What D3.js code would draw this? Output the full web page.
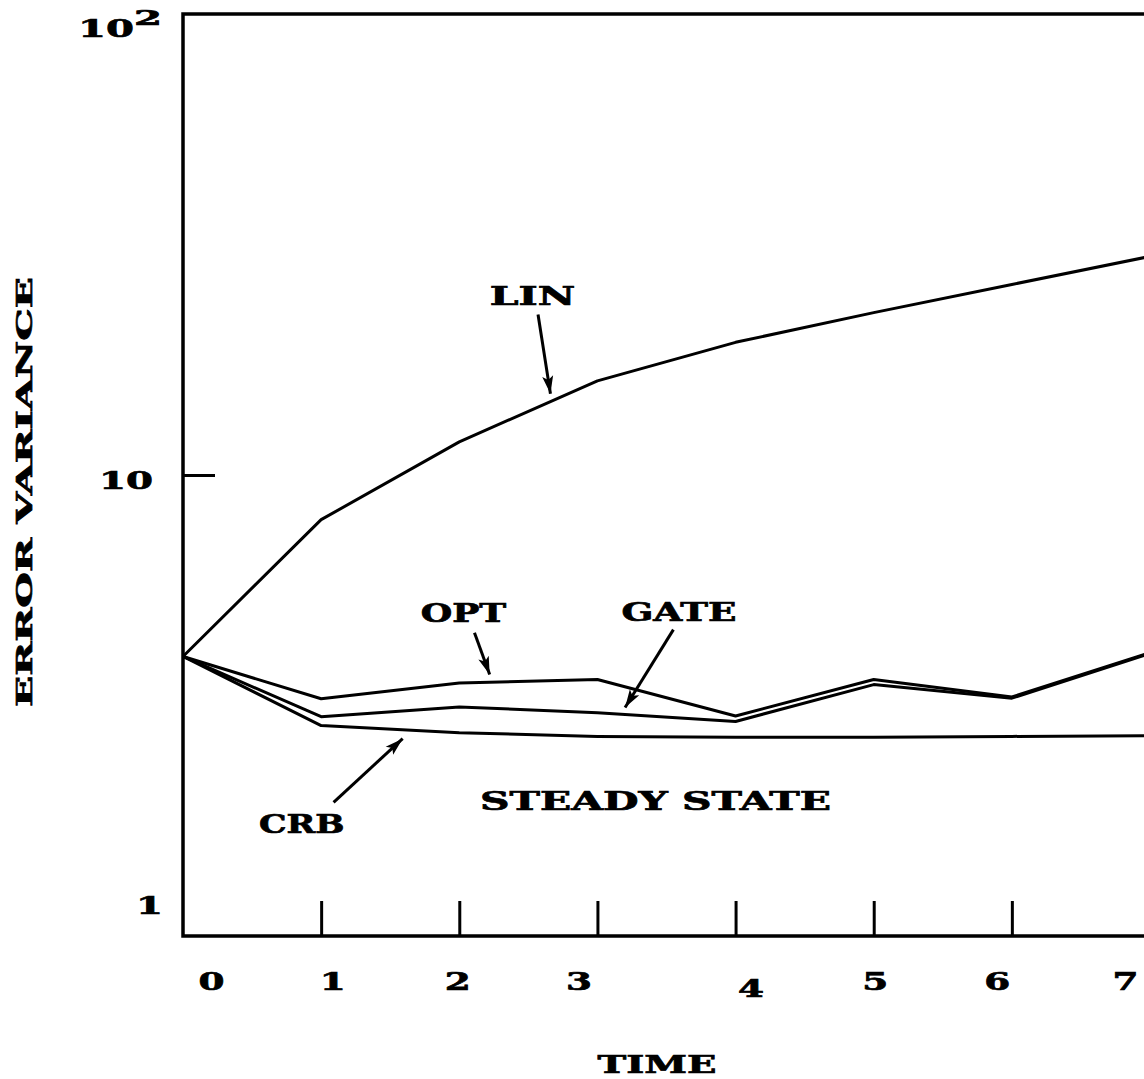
<!DOCTYPE html>
<html>
<head>
<meta charset="utf-8">
<script src="https://cdn.jsdelivr.net/npm/d3@7"></script>
<style>
  body { margin: 0; background: #fff; }
  svg text { font-family: "DejaVu Serif", serif; font-weight: bold; fill: #000; stroke: #000; stroke-width: 0.7px; }
</style>
</head>
<body>
<div id="chart"></div>
<script>
// data
const times = [0, 1, 2, 3, 4, 5, 6, 7];
const lin  = [4.04, 8.0, 11.8, 16.0, 19.4, 22.5, 25.9, 29.8];
const opt  = [4.04, 3.27, 3.54, 3.60, 3.00, 3.60, 3.30, 4.12];
const gate = [4.04, 2.99, 3.14, 3.05, 2.92, 3.51, 3.28, 4.10];
const crb  = [4.04, 2.86, 2.76, 2.71, 2.70, 2.70, 2.71, 2.72];
const xTickLabels = ['0', '1', '2', '3', '4', '5', '6', '7'];
const yTickValues = [1, 10, 100];

// annotations, in data units (t, value)
const notes = [
  { text: 'LIN',  at: [2.53, 23.4], from: [2.57, 22.3], to: [2.66, 15.0] },
  { text: 'OPT',  at: [2.03, 4.81], from: [2.11, 4.55], to: [2.22, 3.69] },
  { text: 'GATE', at: [3.59, 4.83], from: [3.55, 4.62], to: [3.20, 3.13] },
  { text: 'CRB',  at: [0.86, 1.67], from: [1.09, 1.95], to: [1.59, 2.68] },
  { text: 'STEADY STATE', at: [3.42, 1.88] }
];

const width = 1144;
const height = 1079;
const charW = 29.5;

const svg = d3.select('#chart').append('svg')
  .attr('width', width)
  .attr('height', height);

const x = d3.scaleLinear().domain([0, 7]).range([183, 1150]);
const y = d3.scaleLog().domain([1, 100]).range([936, 14]);

// frame (open on the right, runs off the page)
svg.append('path')
  .attr('d', `M${x(8)},${y(100)}H${x(0)}V${y(1)}H${x(8)}`)
  .attr('fill', 'none')
  .attr('stroke', '#000')
  .attr('stroke-width', 3.5);

// x ticks pointing up
const xTicks = svg.append('g')
  .attr('transform', `translate(0, ${y(1)})`)
  .call(d3.axisTop(x).tickValues(times.slice(1)).tickSize(35).tickFormat(''));
xTicks.select('.domain').remove();
xTicks.selectAll('line').attr('stroke-width', 3);

// x labels (hand placed in the original, so nudge a bit)
const xNudge = [28, 11, -2, -19, 15, 1, -15, -25];
const xLabels = svg.append('g')
  .attr('transform', `translate(0, ${y(1)})`)
  .call(d3.axisBottom(x).tickValues(times).tickSize(0).tickFormat((d, i) => xTickLabels[i]));
xLabels.select('.domain').remove();
xLabels.selectAll('.tick text')
  .attr('font-family', null)
  .attr('font-size', 25)
  .attr('dy', 0)
  .attr('y', (d, i) => i === 4 ? 61 : 54)
  .attr('x', (d, i) => xNudge[i])
  .attr('textLength', 26)
  .attr('lengthAdjust', 'spacingAndGlyphs');

// y tick at 10
const yTick = svg.append('g')
  .attr('transform', `translate(${x(0)}, 0)`)
  .call(d3.axisRight(y).tickValues([10]).tickSize(32).tickFormat(''));
yTick.select('.domain').remove();
yTick.selectAll('line').attr('stroke-width', 3);

// y labels
const yNudge = { 1: [10, -32], 10: [0, 4], 100: [9, 13] };
const yLabels = svg.append('g')
  .attr('transform', `translate(${x(0)}, 0)`)
  .call(d3.axisLeft(y).tickValues(yTickValues).tickSize(0).tickFormat(''));
yLabels.select('.domain').remove();
yLabels.selectAll('.tick').each(function(d) {
  const t = d3.select(this).select('text')
    .attr('font-family', null)
    .attr('font-size', 25)
    .attr('dy', '0.36em')
    .attr('x', -30 + yNudge[d][0])
    .attr('y', yNudge[d][1]);
  if (d === 100) {
    t.append('tspan').text('10')
      .attr('textLength', 56).attr('lengthAdjust', 'spacingAndGlyphs');
    t.append('tspan').text('2')
      .attr('font-size', 21).attr('dy', -12)
      .attr('textLength', 28).attr('lengthAdjust', 'spacingAndGlyphs');
  } else {
    const s = String(d);
    t.text(s)
      .attr('textLength', s.length * 27)
      .attr('lengthAdjust', 'spacingAndGlyphs');
  }
});

// series
const line = d3.line()
  .x((d, i) => x(times[i]))
  .y(d => y(d));

[lin, opt, gate, crb].forEach(series => {
  svg.append('path')
    .datum(series)
    .attr('d', line)
    .attr('fill', 'none')
    .attr('stroke', '#000')
    .attr('stroke-width', 3)
    .attr('stroke-linejoin', 'round');
});

// arrow head
svg.append('defs').append('marker')
  .attr('id', 'head')
  .attr('viewBox', '-18 -6 18 12')
  .attr('refX', 0)
  .attr('refY', 0)
  .attr('markerWidth', 18)
  .attr('markerHeight', 12)
  .attr('markerUnits', 'userSpaceOnUse')
  .attr('orient', 'auto')
  .append('path')
  .attr('d', 'M0,0L-18,-5.5L-14,0L-18,5.5Z')
  .attr('fill', '#000');

notes.forEach(n => {
  svg.append('text')
    .attr('x', x(n.at[0]))
    .attr('y', y(n.at[1]))
    .attr('text-anchor', 'middle')
    .attr('font-size', 26)
    .attr('textLength', n.text.length * charW - 3)
    .attr('lengthAdjust', 'spacingAndGlyphs')
    .text(n.text);
  if (n.from) {
    svg.append('line')
      .attr('x1', x(n.from[0]))
      .attr('y1', y(n.from[1]))
      .attr('x2', x(n.to[0]))
      .attr('y2', y(n.to[1]))
      .attr('stroke', '#000')
      .attr('stroke-width', 3)
      .attr('marker-end', 'url(#head)');
  }
});

// axis titles
svg.append('text')
  .attr('x', 657)
  .attr('y', 1073)
  .attr('text-anchor', 'middle')
  .attr('font-size', 25)
  .attr('textLength', 119)
  .attr('lengthAdjust', 'spacingAndGlyphs')
  .text('TIME');

svg.append('text')
  .attr('transform', 'translate(32, 492) rotate(-90)')
  .attr('text-anchor', 'middle')
  .attr('font-size', 23)
  .attr('textLength', 430)
  .attr('lengthAdjust', 'spacingAndGlyphs')
  .text('ERROR VARIANCE');
</script>
</body>
</html>
